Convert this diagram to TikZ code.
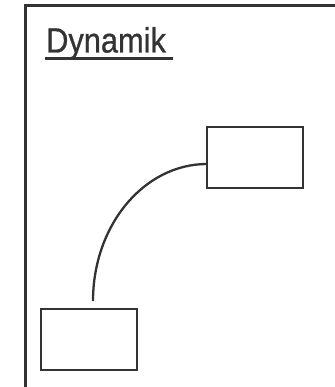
\documentclass[tikz,border=0pt]{standalone}
\usepackage{fontspec}
\setmainfont{Liberation Sans}
\definecolor{ink}{HTML}{333333}
\begin{document}
\begin{tikzpicture}[x=1pt,y=-1pt,
  frame/.style={draw=ink,line width=3pt},
  statebox/.style={draw=ink,line width=2pt,minimum width=96pt,minimum height=61pt,inner sep=0pt},
  link/.style={draw=ink,line width=2.3pt}]
  \useasboundingbox (0,0) rectangle (334,387);
  % open frame (left and top edges)
  \draw[frame] (25,390) -- (25,6) -- (337,6);
  % heading
  \node[anchor=base west,inner sep=0pt,text=ink,font=\fontsize{35}{38}\selectfont\addfontfeature{FakeBold=0.8},xscale=0.88] (title) at (46,52.5) {Dynamik};
  \draw[ink,line width=3pt] (45,59) -- (173,59);
  % two states joined by a curved line
  \node[statebox] (upper) at (255,157.5) {};
  \node[statebox] (lower) at (88.5,339) {};
  \coordinate (start) at (207,164);
  \coordinate (finish) at (93,301);
  \draw[link] (start) .. controls (144,164) and (93,225.3) .. (finish);
\end{tikzpicture}
\end{document}
